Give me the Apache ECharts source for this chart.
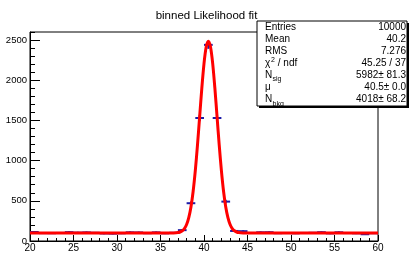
<!DOCTYPE html>
<html>
<head>
<meta charset="utf-8">
<script src="https://cdn.jsdelivr.net/npm/echarts@6/dist/echarts.min.js"></script>
<style>
    html, body { margin: 0; padding: 0; background: #fff; }
    #chart { width: 413px; height: 253px; }
</style>
</head>
<body>
<div id="chart"></div>
<script>
    // bin centres of the histogram (bin width 1)
    var binCenters = [20.5, 21.5, 22.5, 23.5, 24.5, 25.5, 26.5, 27.5, 28.5, 29.5,
                      30.5, 31.5, 32.5, 33.5, 34.5, 35.5, 36.5, 37.5, 38.5, 39.5,
                      40.5, 41.5, 42.5, 43.5, 44.5, 45.5, 46.5, 47.5, 48.5, 49.5,
                      50.5, 51.5, 52.5, 53.5, 54.5, 55.5, 56.5, 57.5, 58.5, 59.5];
    var binCounts = [112, 98, 97, 100, 110, 104, 107, 102, 94, 92,
                     96, 108, 106, 97, 107, 96, 102, 135, 470, 1530,
                     2440, 1530, 490, 125, 122, 100, 108, 109, 97, 99,
                     96, 100, 102, 109, 95, 108, 99, 96, 84, 97];

    // fitted curve
    var fitX = [20, 30, 36, 36.5, 37, 37.25, 37.5, 37.75, 38, 38.25, 38.5, 38.75, 39, 39.25, 39.5, 39.75,
                40, 40.25, 40.5, 40.75, 41, 41.25, 41.5, 41.75, 42, 42.25, 42.5, 42.75, 43, 43.25, 43.5,
                43.75, 44, 44.5, 45, 50, 60];
    var fitY = [100, 100, 100, 101, 105, 112, 127, 154, 205, 290, 423, 616, 875, 1192, 1547, 1901,
                2206, 2413, 2486, 2413, 2206, 1901, 1547, 1192, 875, 616, 423, 290, 205, 154, 127,
                112, 105, 101, 100, 100, 100];

    var yMajorTicks = [0, 500, 1000, 1500, 2000, 2500];
    var yMinorTicks = [];
    for (var v = 0; v <= 2600; v += 100) yMinorTicks.push(v);

    var statNames = ['Entries', 'Mean', 'RMS', '\u03c7', 'N', '\u03bc', 'N'];
    var statSups = ['', '', '', '2', '', '', ''];
    var statRest = ['', '', '', ' / ndf', '', '', ''];
    var statSubs = ['', '', '', '', 'sig', '', 'bkg'];
    var statValues = ['10000', '40.2', '7.276', '45.25 / 37', '5982\u00b1 81.3', '40.5\u00b1 0.0', '4018\u00b1 68.2'];

    var font = 'Liberation Sans, Arial, sans-serif';
    var blue = '#1c1ca8';

    // stats box
    var box = { x: 257, y: 21, w: 150, h: 85 };
    var graphics = [
        { type: 'rect', shape: { x: box.x + 2, y: box.y + 2, width: box.w, height: box.h },
          style: { fill: '#000' }, z: 100 },
        { type: 'rect', shape: { x: box.x, y: box.y, width: box.w, height: box.h },
          style: { fill: '#fff', stroke: '#000', lineWidth: 1 }, z: 101 }
    ];
    for (var i = 0; i < statNames.length; i++) {
        var cy = box.y + 6 + i * 12.1;
        var txt = { fill: '#000', fontSize: 10, fontFamily: font, verticalAlign: 'middle' };
        graphics.push({ type: 'text', z: 102, x: 265, y: cy,
            style: Object.assign({ text: statNames[i], align: 'left' }, txt) });
        var nameW = statNames[i] === 'N' ? 7.5 : 6;
        if (statSups[i]) {
            graphics.push({ type: 'text', z: 102, x: 265 + nameW, y: cy - 3,
                style: { text: statSups[i], fill: '#000', fontSize: 7, fontFamily: font, verticalAlign: 'middle' } });
            graphics.push({ type: 'text', z: 102, x: 265 + nameW + 4, y: cy,
                style: Object.assign({ text: statRest[i], align: 'left' }, txt) });
        }
        if (statSubs[i]) {
            graphics.push({ type: 'text', z: 102, x: 265 + nameW, y: cy + 4,
                style: { text: statSubs[i], fill: '#000', fontSize: 7, fontFamily: font, verticalAlign: 'middle' } });
        }
        graphics.push({ type: 'text', z: 102, x: 406, y: cy,
            style: Object.assign({ text: statValues[i], align: 'right' }, txt) });
    }

    var chart = echarts.init(document.getElementById('chart'));
    chart.setOption({
        animation: false,
        title: {
            text: 'binned Likelihood fit',
            left: 'center',
            top: 5,
            textStyle: { fontSize: 11.5, fontWeight: 'normal', color: '#000', fontFamily: font }
        },
        grid: { left: 30, right: 35, top: 32, bottom: 10, show: true, borderColor: '#000', borderWidth: 1, backgroundColor: 'transparent' },
        xAxis: {
            type: 'value', min: 20, max: 60, interval: 5,
            axisLine: { lineStyle: { color: '#000', width: 1 } },
            axisTick: { inside: true, length: 6, lineStyle: { color: '#000' } },
            minorTick: { show: true, splitNumber: 5, length: 3, lineStyle: { color: '#000' } },
            axisLabel: { color: '#000', fontSize: 10, fontFamily: font, margin: 2 },
            splitLine: { show: false }
        },
        yAxis: [{
            type: 'value', min: 0, max: 2600,
            axisLine: { lineStyle: { color: '#000', width: 1 } },
            axisTick: { inside: true, length: 10, customValues: yMajorTicks, lineStyle: { color: '#000' } },
            axisLabel: { color: '#000', fontSize: 9.5, fontFamily: font, margin: 3, customValues: yMajorTicks,
                         formatter: function (val) { return String(val); } },
            splitLine: { show: false }
        }, {
            type: 'value', min: 0, max: 2600, position: 'left',
            axisLine: { show: false },
            axisTick: { inside: true, length: 5, customValues: yMinorTicks, lineStyle: { color: '#000' } },
            axisLabel: { show: false },
            splitLine: { show: false }
        }],
        series: [{
            type: 'custom',
            data: binCenters.map(function (c, k) { return [c, binCounts[k]]; }),
            renderItem: function (params, api) {
                var c = api.value(0), n = api.value(1), e = Math.sqrt(n);
                var l = api.coord([c - 0.5, n]), r = api.coord([c + 0.5, n]);
                var lo = api.coord([c, n - e]), hi = api.coord([c, n + e]);
                return {
                    type: 'group',
                    children: [
                        { type: 'line', shape: { x1: l[0], y1: l[1], x2: r[0], y2: r[1] },
                          style: { stroke: blue, lineWidth: 2 } },
                        { type: 'line', shape: { x1: lo[0], y1: lo[1], x2: hi[0], y2: hi[1] },
                          style: { stroke: blue, lineWidth: 2 } }
                    ]
                };
            },
            z: 2
        }, {
            type: 'line',
            data: fitX.map(function (x, k) { return [x, fitY[k]]; }),
            smooth: 0.3,
            showSymbol: false,
            lineStyle: { color: '#ff0000', width: 3 },
            z: 3
        }],
        graphic: graphics
    });
</script>
</body>
</html>
